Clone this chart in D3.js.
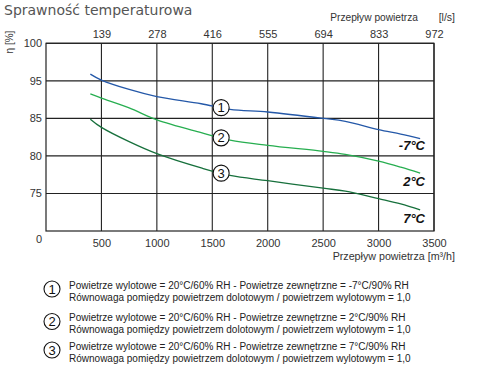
<!DOCTYPE html>
<html><head><meta charset="utf-8">
<script src="https://cdn.jsdelivr.net/npm/d3@7"></script>
<style>
body{margin:0;background:#fff;}
svg{display:block;}
</style></head>
<body>
<svg id="c" width="480" height="380"></svg>
<script>
// ---- data ----
const flowM3h = [400, 500, 750, 1000, 1400, 1660, 2000, 2500, 2700, 3000, 3200, 3375];
const eff1 = [95.9, 95.1, 92.7, 90.8, 88.9, 87.4, 86.7, 85.0, 84.6, 83.5, 82.9, 82.3];   // -7°C
const eff2 = [91.5, 90.4, 87.8, 84.8, 83.1, 82.1, 81.4, 80.6, 80.2, 79.3, 78.5, 77.7];   // 2°C
const eff3 = [84.9, 83.8, 81.9, 80.3, 78.4, 77.4, 76.7, 75.7, 75.3, 74.3, 73.6, 72.8];   // 7°C
const seriesNames = ["-7°C", "2°C", "7°C"];
const seriesNums = ["1", "2", "3"];
const xTicks = [500, 1000, 1500, 2000, 2500, 3000, 3500];
const xTopLabels = ["139", "278", "416", "555", "694", "833", "972"];
const yTicks = [100, 95, 85, 80, 75];
const yDomain = [70, 75, 80, 85, 95, 100];
const legendLines = [
  ["Powietrze wylotowe = 20°C/60% RH - Powietrze zewnętrzne = -7°C/90% RH", "Równowaga pomiędzy powietrzem dolotowym / powietrzem wylotowym = 1,0"],
  ["Powietrze wylotowe = 20°C/60% RH - Powietrze zewnętrzne = 2°C/90% RH", "Równowaga pomiędzy powietrzem dolotowym / powietrzem wylotowym = 1,0"],
  ["Powietrze wylotowe = 20°C/60% RH - Powietrze zewnętrzne = 7°C/90% RH", "Równowaga pomiędzy powietrzem dolotowym / powietrzem wylotowym = 1,0"]
];
const markerX = 1580;

(function () {
// ---- layout ----
const L = 46, R = 434, T = 43.3, B = 231;
const colors = ["#2458a8", "#27ae50", "#17703c"];
const svg = d3.select("#c");
const FONT = "'Liberation Sans', Arial, sans-serif";

const x = d3.scaleLinear().domain([0, 3500]).range([L, R]);
const yStep = (B - T) / 5;
const y = d3.scaleLinear().domain(yDomain).range(yDomain.map((d, i) => B - i * yStep));

// title
svg.append("text").attr("x", 4).attr("y", 15).attr("font-family", "'DejaVu Sans', Verdana, sans-serif")
  .attr("font-size", 14).attr("fill", "#555").text("Sprawność temperaturowa");

// grid
const g = svg.append("g");
g.selectAll("line.v").data(xTicks).join("line")
  .attr("x1", d => x(d)).attr("x2", d => x(d)).attr("y1", T).attr("y2", B)
  .attr("stroke", "#222").attr("stroke-width", 1.1);
g.selectAll("line.h").data(yTicks).join("line")
  .attr("x1", L).attr("x2", R).attr("y1", d => y(d)).attr("y2", d => y(d))
  .attr("stroke", "#222").attr("stroke-width", 1.1);
g.append("rect").attr("x", L).attr("y", T).attr("width", R - L).attr("height", B - T)
  .attr("fill", "none").attr("stroke", "#222").attr("stroke-width", 1.2);

// axes labels
const axB = svg.append("g").attr("transform", `translate(0,${B})`)
  .call(d3.axisBottom(x).tickValues(xTicks).tickSize(0).tickPadding(8).tickFormat(d3.format("d")));
axB.select(".domain").remove();
axB.selectAll("text").attr("font-family", FONT).attr("font-size", 11).attr("fill", "#333");

const axT = svg.append("g").attr("transform", `translate(0,${T})`)
  .call(d3.axisTop(x).tickValues(xTicks).tickSize(0).tickPadding(5).tickFormat((d, i) => xTopLabels[i]));
axT.select(".domain").remove();
axT.selectAll("text").attr("font-family", FONT).attr("font-size", 11).attr("fill", "#333");

const axL = svg.append("g").attr("transform", `translate(${L},0)`)
  .call(d3.axisLeft(y).tickValues(yTicks).tickSize(0).tickPadding(4));
axL.select(".domain").remove();
axL.selectAll("text").attr("font-family", FONT).attr("font-size", 11).attr("fill", "#333");

svg.append("text").attr("x", 39).attr("y", B + 12).attr("text-anchor", "middle")
  .attr("font-family", FONT).attr("font-size", 11).attr("fill", "#333").text("0");

svg.append("text").attr("x", 455).attr("y", 260).attr("text-anchor", "end")
  .attr("font-family", FONT).attr("font-size", 10.7).attr("fill", "#333").text("Przepływ powietrza  [m³/h]");
svg.append("text").attr("x", 418).attr("y", 21).attr("text-anchor", "end")
  .attr("font-family", FONT).attr("font-size", 10.2).attr("fill", "#333").text("Przepływ powietrza");
svg.append("text").attr("x", 455).attr("y", 21).attr("text-anchor", "end")
  .attr("font-family", FONT).attr("font-size", 10.5).attr("fill", "#333").text("[l/s]");
svg.append("text").attr("transform", "translate(13,42) rotate(-90)").attr("text-anchor", "middle")
  .attr("font-family", FONT).attr("font-size", 10).attr("fill", "#333").text("η [%]");

// curves
const series = [eff1, eff2, eff3];
const line = d3.line().x((d, i) => x(flowM3h[i])).y(d => y(d)).curve(d3.curveCatmullRom.alpha(0.5));
series.forEach((s, k) => {
  svg.append("path").attr("d", line(s)).attr("fill", "none").attr("stroke", colors[k]).attr("stroke-width", 1.3);
});

// markers on curves
const interp = (s, xv) => {
  const i = d3.bisectLeft(flowM3h, xv);
  const t = (xv - flowM3h[i - 1]) / (flowM3h[i] - flowM3h[i - 1]);
  return s[i - 1] + t * (s[i] - s[i - 1]);
};
series.forEach((s, k) => {
  const cx = x(markerX), cy = y(interp(s, markerX));
  svg.append("circle").attr("cx", cx).attr("cy", cy).attr("r", 8).attr("fill", "#fff").attr("stroke", "#111").attr("stroke-width", 1.1);
  svg.append("text").attr("x", cx).attr("y", cy + 4.5).attr("text-anchor", "middle")
    .attr("font-family", FONT).attr("font-size", 13).attr("fill", "#111").text(seriesNums[k]);
});

// end labels
const labOff = [11.5, 13, 13];
series.forEach((s, k) => {
  const yv = y(s[s.length - 1]);
  svg.append("text").attr("x", 425).attr("y", yv + labOff[k]).attr("text-anchor", "end")
    .attr("font-family", FONT).attr("font-size", 13).attr("font-weight", "bold").attr("font-style", "italic")
    .attr("fill", "#111").text(seriesNames[k]);
});

// legend
const legTop = [289, 321.5, 350];
legendLines.forEach((lines, k) => {
  const cy = legTop[k];
  svg.append("circle").attr("cx", 52).attr("cy", cy).attr("r", 8).attr("fill", "#fff").attr("stroke", "#111").attr("stroke-width", 1.1);
  svg.append("text").attr("x", 52).attr("y", cy + 4.5).attr("text-anchor", "middle")
    .attr("font-family", FONT).attr("font-size", 13).attr("fill", "#111").text(seriesNums[k]);
  lines.forEach((t, j) => {
    svg.append("text").attr("x", 69).attr("y", cy + (j === 0 ? -0.5 : 11.8)).attr("font-family", FONT)
      .attr("font-size", 10).attr("fill", "#222").text(t);
  });
});
})();
</script>
</body></html>
